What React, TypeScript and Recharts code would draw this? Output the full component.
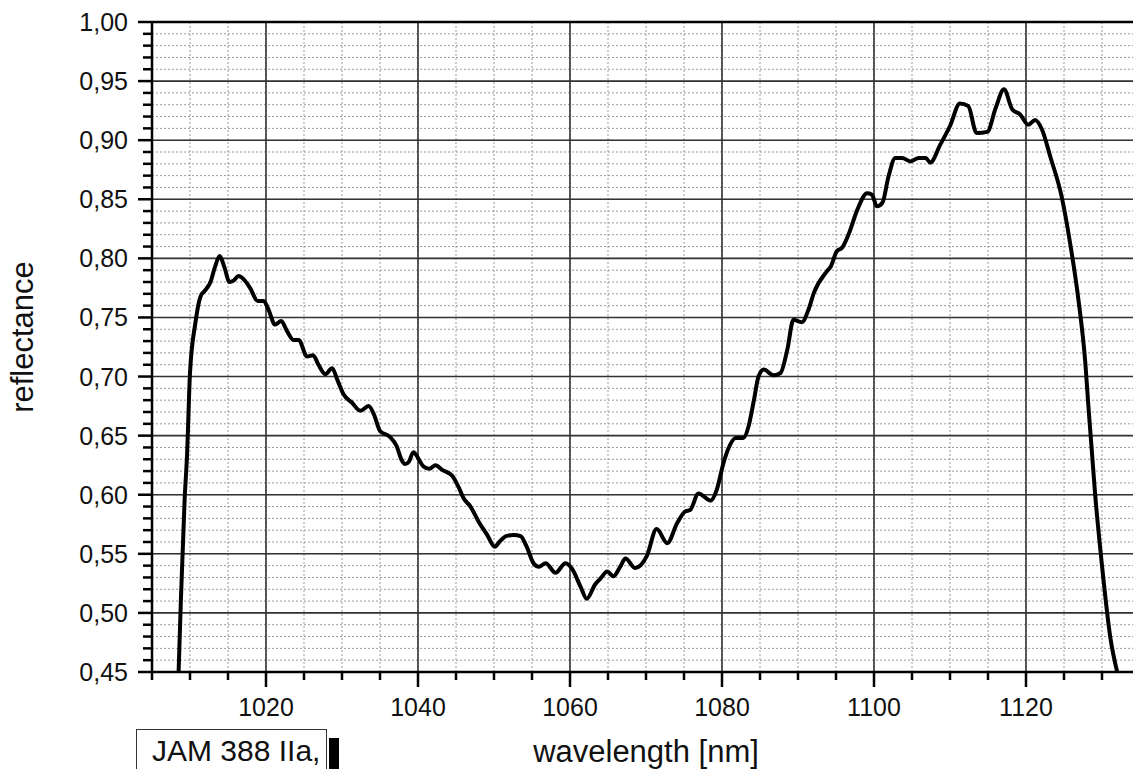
import React from 'react';
import { LineChart, Line, XAxis, YAxis, CartesianGrid, ReferenceLine, Label } from 'recharts';

const seriesName = 'JAM 388 IIa,';

const wavelength = [
  1008.5, 1008.8, 1009.3, 1009.6, 1010.0, 1010.7, 1011.4, 1012.0, 1012.7, 1013.3,
  1013.9, 1014.5, 1015.2, 1015.7, 1016.4, 1017.1, 1017.9, 1018.9, 1019.7, 1020.3,
  1021.2, 1022.0, 1022.8, 1023.6, 1024.3, 1025.4, 1026.2, 1026.9, 1027.8, 1028.7,
  1029.4, 1030.2, 1031.3, 1032.4, 1033.5, 1034.2, 1035.0, 1036.3, 1037.2, 1037.8,
  1038.3, 1038.8, 1039.4, 1040.1, 1040.7, 1041.5, 1042.3, 1043.2, 1044.5, 1045.3,
  1046.0, 1046.9, 1048.0, 1049.1, 1050.1, 1050.7, 1051.6, 1052.6, 1053.5, 1054.3,
  1055.2, 1055.9, 1056.8, 1058.1, 1059.4, 1060.3, 1061.4, 1062.2, 1063.3, 1064.0,
  1064.9, 1065.7, 1066.6, 1067.3, 1068.6, 1070.1, 1071.4, 1072.8, 1074.1, 1075.2,
  1075.8, 1076.9, 1078.5, 1079.3, 1080.2, 1080.9, 1081.8, 1082.8, 1083.5, 1084.2,
  1084.8, 1085.5, 1086.8, 1087.7, 1088.6, 1089.4, 1090.5, 1091.4, 1092.1, 1093.8,
  1094.3, 1095.1, 1095.8, 1096.7, 1097.8, 1099.1, 1099.7, 1100.4, 1101.1, 1101.9,
  1102.8, 1103.7, 1104.8, 1105.9, 1106.8, 1107.4, 1108.7, 1110.0, 1111.3, 1112.4,
  1113.5, 1114.9, 1116.0, 1117.1, 1118.2, 1119.2, 1120.3, 1121.2, 1122.1, 1123.2,
  1124.7, 1125.8, 1126.9, 1127.8, 1128.2, 1129.1, 1130.0, 1131.1, 1132.0,
];

const reflectance = [
  0.450, 0.511, 0.597, 0.632, 0.703, 0.745, 0.768, 0.773, 0.780, 0.793,
  0.802, 0.793, 0.780, 0.781, 0.785, 0.782, 0.775, 0.764, 0.764, 0.757,
  0.744, 0.747, 0.738, 0.731, 0.731, 0.717, 0.718, 0.710, 0.702, 0.707,
  0.697, 0.685, 0.678, 0.671, 0.675, 0.668, 0.654, 0.649, 0.641, 0.630,
  0.626, 0.628, 0.636, 0.630, 0.624, 0.622, 0.625, 0.621, 0.616, 0.607,
  0.597, 0.590, 0.577, 0.566, 0.556, 0.560, 0.565, 0.566, 0.565, 0.556,
  0.542, 0.539, 0.542, 0.534, 0.542, 0.537, 0.522, 0.512, 0.524, 0.529,
  0.535, 0.531, 0.539, 0.546, 0.538, 0.548, 0.571, 0.559, 0.576, 0.586,
  0.587, 0.601, 0.595, 0.604, 0.627, 0.640, 0.648, 0.648, 0.658, 0.680,
  0.700, 0.706, 0.701, 0.703, 0.723, 0.748, 0.746, 0.757, 0.771, 0.789,
  0.793, 0.806, 0.809, 0.821, 0.841, 0.855, 0.854, 0.844, 0.847, 0.869,
  0.885, 0.885, 0.882, 0.885, 0.885, 0.881, 0.896, 0.912, 0.931, 0.929,
  0.906, 0.907, 0.927, 0.943, 0.926, 0.922, 0.913, 0.917, 0.909, 0.886,
  0.852, 0.813, 0.765, 0.712, 0.676, 0.600, 0.540, 0.479, 0.450,
];

const xMajor = [1020, 1040, 1060, 1080, 1100, 1120];
const yMajor = [0.5, 0.55, 0.6, 0.65, 0.7, 0.75, 0.8, 0.85, 0.9, 0.95];

// minor ticks every 5 nm / 0.01
const xTicks = Array.from({ length: 27 }, (_, i) => 1005 + i * 5);
const yTicks = Array.from({ length: 56 }, (_, i) => (45 + i) / 100);

const data = wavelength.map((w, i) => ({ w, r: reflectance[i] }));

const FONT = '"Liberation Sans", Arial, sans-serif';

const fmt = (v: number) => v.toFixed(2).replace('.', ',');

const XTick = (props: any) => {
  const { x, y, payload } = props;
  const major = payload.value % 20 === 0;
  return (
    <g>
      <line x1={x} x2={x} y1={y} y2={y + (major ? 15 : 8)} stroke="#000" strokeWidth={2.5} />
      {major && (
        <text x={x} y={y + 44} textAnchor="middle" fontSize={25} fontFamily={FONT} fill="#111">
          {payload.value}
        </text>
      )}
    </g>
  );
};

const YTick = (props: any) => {
  const { x, y, payload } = props;
  const major = Math.round(payload.value * 100) % 5 === 0;
  return (
    <g>
      <line x1={x - (major ? 14 : 9)} x2={x} y1={y} y2={y} stroke="#000" strokeWidth={2.5} />
      {major && (
        <text x={x - 24} y={y} dy="0.36em" textAnchor="end" fontSize={25} fontFamily={FONT} fill="#111">
          {fmt(payload.value)}
        </text>
      )}
    </g>
  );
};

const XTitle = (props: any) => {
  const vb = props.viewBox;
  return (
    <text x={vb.x + vb.width / 2} y={vb.y + 90} textAnchor="middle" fontSize={31} fontFamily={FONT} fill="#111">
      wavelength [nm]
    </text>
  );
};

const YTitle = () => (
  <text x={33} y={337} textAnchor="middle" fontSize={31} fontFamily={FONT} fill="#111" transform="rotate(-90, 33, 337)">
    reflectance
  </text>
);

export default function App() {
  return (
    <div style={{ position: 'fixed', left: 0, top: 0, width: 1133, height: 769, overflow: 'hidden', background: '#fff' }}>
      <LineChart width={1160} height={769} data={data} margin={{ top: 22, right: 20, bottom: 0, left: 0 }}>
        <CartesianGrid stroke="#999" strokeDasharray="2 2" strokeWidth={1} />
        {xMajor.map((v) => (
          <ReferenceLine key={'x' + v} x={v} stroke="#333" strokeWidth={1.6} />
        ))}
        {yMajor.map((v) => (
          <ReferenceLine key={'y' + v} y={v} stroke="#333" strokeWidth={1.6} />
        ))}
        <ReferenceLine y={1} stroke="#000" strokeWidth={2.5} />
        <XAxis
          dataKey="w"
          type="number"
          domain={[1005, 1135]}
          ticks={xTicks}
          interval={0}
          height={97}
          tickSize={0}
          tickMargin={0}
          tickLine={false}
          axisLine={{ stroke: '#000', strokeWidth: 2.5 }}
          tick={XTick}
        >
          <Label content={XTitle} />
        </XAxis>
        <YAxis
          type="number"
          domain={[0.45, 1]}
          ticks={yTicks}
          interval={0}
          width={152}
          tickSize={0}
          tickMargin={0}
          tickLine={false}
          axisLine={{ stroke: '#000', strokeWidth: 2.5 }}
          tick={YTick}
        >
          <Label content={YTitle} />
        </YAxis>
        <Line
          dataKey="r"
          name={seriesName}
          type="monotone"
          stroke="#000"
          strokeWidth={4}
          dot={false}
          isAnimationActive={false}
        />
      </LineChart>
      <div
        style={{
          position: 'absolute',
          left: 136,
          top: 729,
          width: 191,
          height: 60,
          border: '1px solid #333',
          background: '#fff',
          boxSizing: 'border-box',
          paddingTop: 6,
          paddingLeft: 15,
          fontFamily: FONT,
          fontSize: 30,
          lineHeight: '30px',
          color: '#111',
          whiteSpace: 'nowrap',
        }}
      >
        {seriesName}
      </div>
      <div style={{ position: 'absolute', left: 329, top: 738, width: 10, height: 40, background: '#000' }} />
    </div>
  );
}
